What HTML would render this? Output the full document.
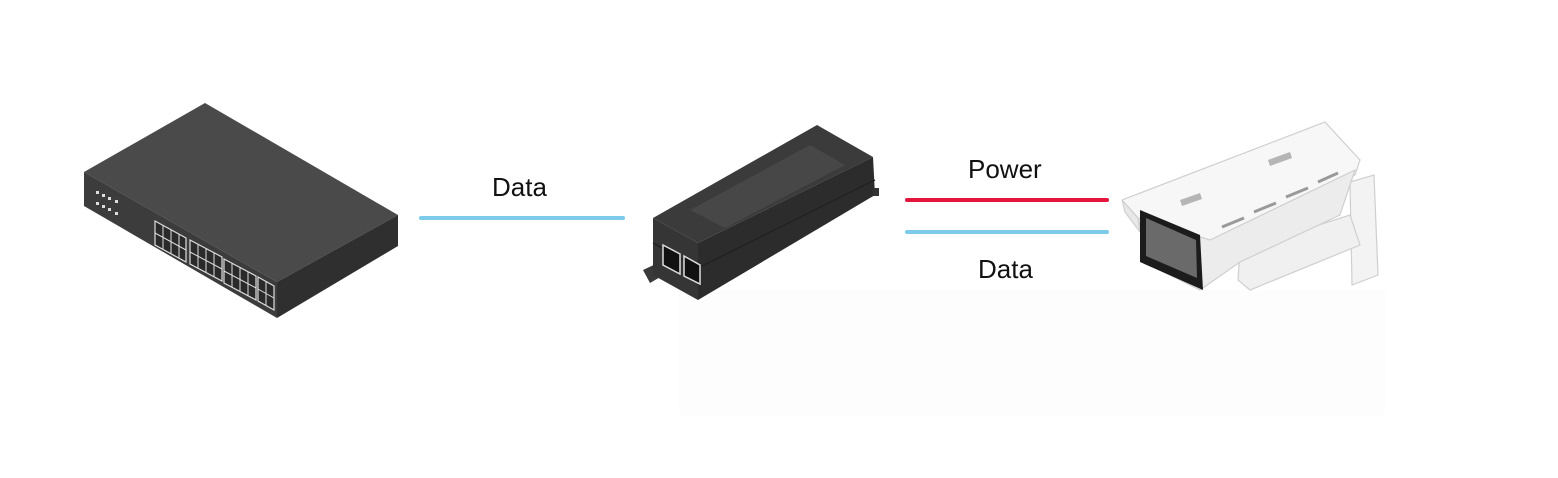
<!DOCTYPE html>
<html><head><meta charset="utf-8"><style>
html,body{margin:0;padding:0;background:#fff;}
svg{display:block;}
text{font-family:"Liberation Sans",sans-serif;font-size:26px;fill:#111;}
</style></head><body>
<svg width="1558" height="478" viewBox="0 0 1558 478" xmlns="http://www.w3.org/2000/svg">
<rect x="0" y="0" width="1558" height="478" fill="#fff"/>
<rect x="679" y="290" width="706" height="125" fill="#fdfdfd"/>

<!-- Switch -->
<polygon points="205,103 398,215 277,282 84,172" fill="#4a4a4a"/>
<polygon points="84,172 277,282 277,318 84,206" fill="#3c3c3c"/>
<polygon points="277,282 398,215 398,246 277,318" fill="#2f2f2f"/>
<g fill="#ddd">
<rect x="96" y="191" width="3" height="3"/><rect x="102" y="194" width="3" height="3"/><rect x="108" y="197" width="3" height="3"/><rect x="115" y="200" width="3" height="3"/>
<rect x="96" y="202" width="3" height="3"/><rect x="102" y="205" width="3" height="3"/><rect x="108" y="208" width="3" height="3"/><rect x="115" y="212" width="3" height="3"/>
</g>
<g fill="#2a2a2a" stroke="#ddd" stroke-width="1.2">
<polygon points="155,221 186,238 186,262 155,245"/>
<polygon points="190,240 222,257 222,281 190,264"/>
<polygon points="224,259 256,276 256,300 224,283"/>
<polygon points="258,277 274,286 274,310 258,301"/>
</g>
<g stroke="#ddd" stroke-width="1">
<line x1="155" y1="233" x2="186" y2="250"/><line x1="190" y1="252" x2="222" y2="269"/><line x1="224" y1="271" x2="256" y2="288"/><line x1="258" y1="289" x2="274" y2="298"/>
<line x1="163" y1="225" x2="163" y2="249"/><line x1="171" y1="230" x2="171" y2="254"/><line x1="179" y1="234" x2="179" y2="258"/>
<line x1="198" y1="244" x2="198" y2="268"/><line x1="206" y1="248" x2="206" y2="272"/><line x1="214" y1="253" x2="214" y2="277"/>
<line x1="232" y1="263" x2="232" y2="287"/><line x1="240" y1="267" x2="240" y2="291"/><line x1="248" y1="272" x2="248" y2="296"/>
<line x1="266" y1="281" x2="266" y2="305"/>
</g>

<!-- Data line left -->
<line x1="421" y1="218" x2="623" y2="218" stroke="#7ccbea" stroke-width="4" stroke-linecap="round"/>
<text x="492" y="196">Data</text>

<!-- Injector -->
<polygon points="643,270 660,262 662,276 650,283" fill="#3a3a3a"/>
<polygon points="653,218 817,125 873,157 698,243" fill="#3b3b3b"/>
<polygon points="690,210 810,145 845,165 725,228" fill="#474747"/>
<polygon points="653,218 698,243 698,300 653,275" fill="#353535"/>
<polygon points="698,243 873,157 875,195 698,300" fill="#2c2c2c"/>
<rect x="873" y="188" width="6" height="8" fill="#333"/>
<line x1="653" y1="243" x2="698" y2="268" stroke="#222" stroke-width="1.5"/>
<line x1="698" y1="268" x2="875" y2="180" stroke="#222" stroke-width="1.5"/>
<g fill="#111" stroke="#ddd" stroke-width="1.5">
<polygon points="663,245 680,254 680,274 663,265"/>
<polygon points="684,256 700,265 700,284 684,276"/>
</g>

<!-- Power / Data lines -->
<line x1="907" y1="200" x2="1107" y2="200" stroke="#e3173e" stroke-width="4" stroke-linecap="round"/>
<line x1="907" y1="232" x2="1107" y2="232" stroke="#7ccbea" stroke-width="4" stroke-linecap="round"/>
<text x="968" y="178">Power</text>
<text x="978" y="278">Data</text>

<!-- Camera -->
<g stroke="#cfcfcf" stroke-width="1.2">
<polygon points="1350,182 1374,175 1378,275 1352,285" fill="#f3f3f3"/>
<polygon points="1240,250 1350,215 1360,245 1250,290 1238,280" fill="#f0f0f0"/>
<polygon points="1122,200 1325,122 1360,160 1355,175 1200,250 1180,262 1138,218" fill="#f7f7f7"/>
<polygon points="1138,218 1210,240 1355,170 1340,215 1240,262 1200,290 1150,265" fill="#ececec"/>
<polygon points="1122,200 1138,218 1140,232 1125,212" fill="#e8e8e8"/>
</g>
<polygon points="1140,210 1200,235 1203,290 1140,262" fill="#1c1c1c"/>
<polygon points="1146,218 1196,240 1197,278 1146,256" fill="#6a6a6a"/>
<g fill="#b5b5b5">
<polygon points="1268,160 1290,152 1292,158 1270,166"/>
<polygon points="1180,200 1200,193 1202,199 1182,206"/>
</g>
<g stroke="#9a9a9a" stroke-width="3">
<line x1="1222" y1="227" x2="1244" y2="218"/><line x1="1254" y1="212" x2="1276" y2="203"/><line x1="1286" y1="197" x2="1308" y2="188"/><line x1="1318" y1="182" x2="1338" y2="173"/>
</g>
</svg>
</body></html>
